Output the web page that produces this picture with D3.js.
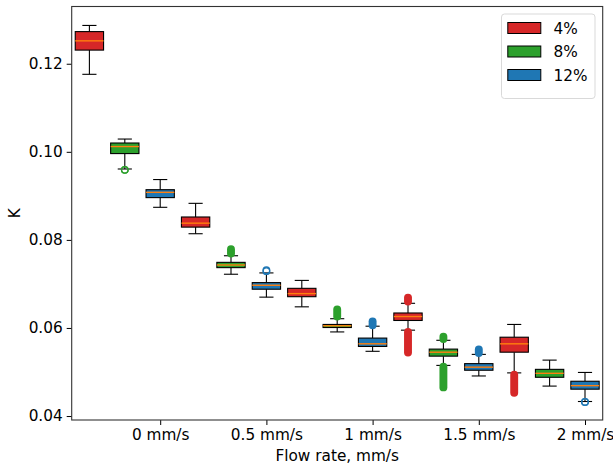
<!DOCTYPE html>
<html>
<head>
<meta charset="utf-8">
<script src="https://cdn.jsdelivr.net/npm/d3@7/dist/d3.min.js"></script>
<style>
  html, body { margin: 0; padding: 0; background: #fff; }
  text { font-family: "DejaVu Sans", sans-serif; }
</style>
</head>
<body>
<div id="chart"></div>
<script>
// data
var concentrations = ["4%", "8%", "12%"];
var concColors = ["#d62728", "#2ca02c", "#1f77b4"];
var flowLabels = ["0 mm/s", "0.5 mm/s", "1 mm/s", "1.5 mm/s", "2 mm/s"];
var yTicks = [0.04, 0.06, 0.08, 0.10, 0.12];

// one entry per box, in plotting order (4%, 8%, 12% for each flow rate)
var whiskerHigh = [0.1287, 0.1029, 0.0937, 0.0883, 0.0764, 0.0725, 0.0708, 0.0621, 0.0604, 0.0656, 0.0572, 0.0540, 0.0608, 0.0527, 0.0499];
var q3          = [0.1273, 0.1020, 0.0914, 0.0852, 0.0749, 0.0703, 0.0690, 0.0608, 0.0577, 0.0634, 0.0552, 0.0519, 0.0579, 0.0506, 0.0479];
var medians     = [0.1252, 0.1012, 0.0908, 0.0838, 0.0743, 0.0697, 0.0678, 0.0605, 0.0564, 0.0626, 0.0545, 0.0511, 0.0564, 0.0497, 0.0469];
var q1          = [0.1231, 0.0996, 0.0896, 0.0829, 0.0737, 0.0688, 0.0671, 0.0601, 0.0558, 0.0617, 0.0536, 0.0504, 0.0545, 0.0488, 0.0461];
var whiskerLow  = [0.1176, 0.0961, 0.0874, 0.0814, 0.0722, 0.0670, 0.0648, 0.0591, 0.0547, 0.0595, 0.0515, 0.0491, 0.0498, 0.0468, 0.0433];

// outliers as [low, high] runs of flier centres (dense runs merge into a bar)
var outliers = [
  [],
  [[0.0959, 0.0959]],
  [],
  [],
  [[0.0769, 0.0779]],
  [[0.0729, 0.0731]],
  [],
  [[0.0626, 0.0642]],
  [[0.0606, 0.0615]],
  [[0.0660, 0.0669], [0.0544, 0.0591]],
  [[0.0575, 0.0580], [0.0465, 0.0512]],
  [[0.0543, 0.0551]],
  [[0.0453, 0.0494]],
  [],
  [[0.0432, 0.0432]]
];

var width = 613, height = 464;
var mLeft = 71.7, mRight = 602.7, mTop = 6.5, mBottom = 420;

var svg = d3.select("#chart").append("svg")
    .attr("width", width)
    .attr("height", height);

var x = d3.scaleLinear().domain([0.5, 15.5]).range([mLeft, mRight]);
var y = d3.scaleLinear().domain([0.0391, 0.1330]).range([mBottom, mTop]);

var boxW = 0.8 * (x(2) - x(1));
var capW = boxW / 2;
var R = 3.3;

var boxes = d3.range(15).map(function(i) {
  return {
    pos: i + 1,
    color: concColors[i % 3],
    lo: whiskerLow[i], q1: q1[i], med: medians[i], q3: q3[i], hi: whiskerHigh[i],
    fliers: outliers[i]
  };
});

var g = svg.append("g");

var bx = g.selectAll("g.box").data(boxes).enter().append("g").attr("class", "box");

// whiskers
bx.append("line")
  .attr("x1", function(d) { return x(d.pos); }).attr("x2", function(d) { return x(d.pos); })
  .attr("y1", function(d) { return y(d.q3); }).attr("y2", function(d) { return y(d.hi); })
  .attr("stroke", "#000").attr("stroke-width", 1.1);
bx.append("line")
  .attr("x1", function(d) { return x(d.pos); }).attr("x2", function(d) { return x(d.pos); })
  .attr("y1", function(d) { return y(d.q1); }).attr("y2", function(d) { return y(d.lo); })
  .attr("stroke", "#000").attr("stroke-width", 1.1);
// caps
bx.append("line")
  .attr("x1", function(d) { return x(d.pos) - capW / 2; }).attr("x2", function(d) { return x(d.pos) + capW / 2; })
  .attr("y1", function(d) { return y(d.hi); }).attr("y2", function(d) { return y(d.hi); })
  .attr("stroke", "#000").attr("stroke-width", 1.1);
bx.append("line")
  .attr("x1", function(d) { return x(d.pos) - capW / 2; }).attr("x2", function(d) { return x(d.pos) + capW / 2; })
  .attr("y1", function(d) { return y(d.lo); }).attr("y2", function(d) { return y(d.lo); })
  .attr("stroke", "#000").attr("stroke-width", 1.1);

// box body
bx.append("rect")
  .attr("x", function(d) { return x(d.pos) - boxW / 2; })
  .attr("y", function(d) { return y(d.q3); })
  .attr("width", boxW)
  .attr("height", function(d) { return y(d.q1) - y(d.q3); })
  .attr("fill", function(d) { return d.color; })
  .attr("stroke", "#000").attr("stroke-width", 1.1);

// median
bx.append("line")
  .attr("x1", function(d) { return x(d.pos) - boxW / 2; }).attr("x2", function(d) { return x(d.pos) + boxW / 2; })
  .attr("y1", function(d) { return y(d.med); }).attr("y2", function(d) { return y(d.med); })
  .attr("stroke", "#ff7f0e").attr("stroke-width", 1.4);

// fliers
boxes.forEach(function(d) {
  d.fliers.forEach(function(f) {
    var yHi = y(f[1]), yLo = y(f[0]);
    if (yLo - yHi < 1.5) {
      [yHi, yLo].forEach(function(yy) {
        g.append("circle")
          .attr("cx", x(d.pos)).attr("cy", yy).attr("r", R)
          .attr("fill", "none").attr("stroke", d.color).attr("stroke-width", 1.3);
      });
    } else {
      g.append("rect")
        .attr("x", x(d.pos) - R - 0.65)
        .attr("y", yHi - R - 0.65)
        .attr("width", 2 * R + 1.3)
        .attr("height", yLo - yHi + 2 * R + 1.3)
        .attr("rx", R + 0.65)
        .attr("fill", d.color);
    }
  });
});

// axes
var xAxis = d3.axisBottom(x)
  .tickValues([3, 6, 9, 12, 15])
  .tickFormat(function(d, i) { return flowLabels[i]; })
  .tickSize(5).tickPadding(4);
var yAxis = d3.axisLeft(y)
  .tickValues(yTicks)
  .tickFormat(d3.format(".2f"))
  .tickSize(5).tickPadding(4);

var gx = svg.append("g").attr("transform", "translate(0," + mBottom + ")").call(xAxis);
var gy = svg.append("g").attr("transform", "translate(" + mLeft + ",0)").call(yAxis);
[gx, gy].forEach(function(a) {
  a.select(".domain").remove();
  a.selectAll("line").attr("stroke", "#000").attr("stroke-width", 1);
  a.selectAll("text").attr("font-size", "15.3px").attr("fill", "#000")
    .style("font-family", "'DejaVu Sans', sans-serif");
});

// frame
svg.append("rect")
  .attr("x", mLeft).attr("y", mTop)
  .attr("width", mRight - mLeft).attr("height", mBottom - mTop)
  .attr("fill", "none").attr("stroke", "#333").attr("stroke-width", 1.1);

// axis labels
svg.append("text")
  .attr("x", (mLeft + mRight) / 2).attr("y", 461)
  .attr("text-anchor", "middle").attr("font-size", "15.3px")
  .text("Flow rate, mm/s");
svg.append("text")
  .attr("transform", "translate(20," + ((mTop + mBottom) / 2) + ") rotate(-90)")
  .attr("text-anchor", "middle").attr("font-size", "15.3px")
  .text("K");

// legend
var lg = svg.append("g");
lg.append("rect")
  .attr("x", 501.5).attr("y", 14).attr("width", 93.5).attr("height", 84.5)
  .attr("rx", 3).attr("fill", "#fff").attr("fill-opacity", 0.8)
  .attr("stroke", "#d9d9d9").attr("stroke-width", 1);
var items = lg.selectAll("g.item").data(concentrations).enter().append("g")
  .attr("transform", function(d, i) { return "translate(0," + (28 + i * 23.5) + ")"; });
items.append("rect")
  .attr("x", 507.8).attr("y", -5.5).attr("width", 33).attr("height", 11)
  .attr("fill", function(d, i) { return concColors[i]; })
  .attr("stroke", "#000").attr("stroke-width", 1);
items.append("text")
  .attr("x", 553.5).attr("y", 5.5).attr("font-size", "15.3px")
  .text(function(d) { return d; });
</script>
</body>
</html>
